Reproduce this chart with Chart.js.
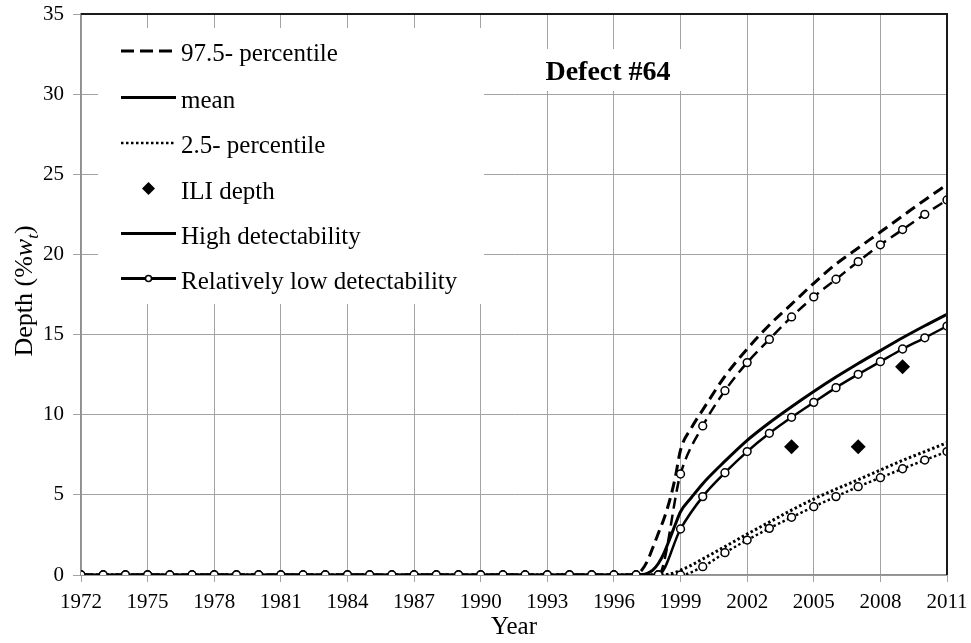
<!DOCTYPE html>
<html>
<head>
<meta charset="utf-8">
<script src="https://cdn.jsdelivr.net/npm/chart.js@4/dist/chart.umd.min.js"></script>
<style>
  html, body { margin: 0; padding: 0; background: #fff; }
  #wrap { width: 971px; height: 643px; }
</style>
</head>
<body>
<div id="wrap"><canvas id="c" width="971" height="643"></canvas></div>
<script>
// Yearly points of the low-detectability runs (marked every year)
const years = [1972, 1973, 1974, 1975, 1976, 1977, 1978, 1979, 1980, 1981,
               1982, 1983, 1984, 1985, 1986, 1987, 1988, 1989, 1990, 1991,
               1992, 1993, 1994, 1995, 1996, 1997, 1998, 1999, 2000, 2001,
               2002, 2003, 2004, 2005, 2006, 2007, 2008, 2009, 2010, 2011];

const lowUpper = [0, 0, 0, 0, 0, 0, 0, 0, 0, 0,
                  0, 0, 0, 0, 0, 0, 0, 0, 0, 0,
                  0, 0, 0, 0, 0, 0, 0, 6.3, 9.3, 11.5,
                  13.25, 14.7, 16.1, 17.35, 18.45, 19.55, 20.6, 21.55, 22.5, 23.4];

const lowMean = [0, 0, 0, 0, 0, 0, 0, 0, 0, 0,
                 0, 0, 0, 0, 0, 0, 0, 0, 0, 0,
                 0, 0, 0, 0, 0, 0, 0, 2.87, 4.89, 6.38,
                 7.7, 8.84, 9.84, 10.77, 11.69, 12.52, 13.31, 14.1, 14.8, 15.53];

const lowLower = [0, 0, 0, 0, 0, 0, 0, 0, 0, 0,
                  0, 0, 0, 0, 0, 0, 0, 0, 0, 0,
                  0, 0, 0, 0, 0, 0, 0, 0, 0.52, 1.39,
                  2.18, 2.91, 3.6, 4.26, 4.89, 5.51, 6.07, 6.63, 7.17, 7.7];

// High-detectability runs, read more densely around the initiation time
const highYears = [1972, 1996, 1996.5, 1997, 1997.25, 1997.5, 1997.75, 1998, 1998.25, 1998.5,
                   1998.75, 1999, 1999.5, 2000, 2001, 2002, 2003, 2004, 2005, 2006,
                   2007, 2008, 2009, 2010, 2011];

const highUpper = [0, 0, 0, 0.05, 0.3, 0.85, 1.7, 2.6, 3.5, 4.6,
                   6.0, 7.8, 9.2, 10.3, 12.4, 14.1, 15.6, 16.9, 18.2, 19.4,
                   20.4, 21.4, 22.4, 23.4, 24.35];

const highMean = [0, 0, 0, 0, 0.02, 0.1, 0.3, 0.72, 1.35, 2.2,
                  3.1, 3.95, 4.85, 5.7, 7.1, 8.4, 9.5, 10.5, 11.45, 12.35,
                  13.2, 14.0, 14.8, 15.55, 16.27];

const highLower = [0, 0, 0, 0, 0, 0, 0, 0, 0.02, 0.06,
                   0.15, 0.3, 0.62, 1.0, 1.77, 2.55, 3.3, 4.05, 4.74, 5.35,
                   5.95, 6.55, 7.15, 7.7, 8.25];

// In-line inspection measurements
const iliYears = [2004, 2007, 2009];
const iliDepth = [8, 8, 13];

const xTickValues = [1972, 1975, 1978, 1981, 1984, 1987, 1990, 1993, 1996, 1999, 2002, 2005, 2008, 2011];

const legendLabels = ['97.5- percentile', 'mean', '2.5- percentile', 'ILI depth',
                      'High detectability', 'Relatively low detectability'];
const chartTitle = 'Defect #64';

const SERIF = '"Liberation Serif", "Times New Roman", serif';
const DASH = [11, 6];
const DOT = [2.5, 2.5];

const pairs = (xs, ys) => xs.map((x, i) => ({ x: x, y: ys[i] }));

function highSeries(label, ys, dash) {
  return {
    label: label,
    data: pairs(highYears, ys),
    borderColor: '#000',
    borderWidth: 3,
    borderDash: dash,
    borderCapStyle: 'butt',
    pointRadius: 0,
    cubicInterpolationMode: 'monotone',
    fill: false
  };
}

function lowSeries(label, ys, dash) {
  return {
    label: label,
    data: pairs(years, ys),
    borderColor: '#000',
    borderWidth: 2.5,
    borderDash: dash,
    borderCapStyle: 'butt',
    pointRadius: 3.9,
    pointBorderWidth: 1.5,
    pointBorderColor: '#000',
    pointBackgroundColor: '#fff',
    pointStyle: 'circle',
    cubicInterpolationMode: 'monotone',
    fill: false
  };
}

// White boxes for the legend and the title, plot frame, axis title and legend entries
const decorations = {
  id: 'decorations',
  afterDraw(chart) {
    const ctx = chart.ctx;
    const a = chart.chartArea;
    ctx.save();

    // dark frame on top and right
    ctx.strokeStyle = '#1a1a1a';
    ctx.lineWidth = 2;
    ctx.beginPath();
    ctx.moveTo(a.left, a.top);
    ctx.lineTo(a.right, a.top);
    ctx.lineTo(a.right, a.bottom);
    ctx.stroke();

    // title box
    ctx.fillStyle = '#fff';
    ctx.fillRect(526, 49, 157, 42);
    ctx.fillStyle = '#000';
    ctx.font = 'bold 28px ' + SERIF;
    ctx.textAlign = 'center';
    ctx.textBaseline = 'alphabetic';
    ctx.fillText(chartTitle, 608, 80);

    // legend box
    ctx.fillStyle = '#fff';
    ctx.fillRect(98, 28, 386, 276);

    const x0 = 121, x1 = 176, xm = 148.5;
    const rowY = [51, 97.5, 143, 188.5, 233.5, 278.5];
    ctx.strokeStyle = '#000';
    ctx.fillStyle = '#000';
    const seg = (y, w, dash) => {
      ctx.setLineDash(dash);
      ctx.lineWidth = w;
      ctx.beginPath();
      ctx.moveTo(x0, y);
      ctx.lineTo(x1, y);
      ctx.stroke();
      ctx.setLineDash([]);
    };
    seg(rowY[0], 3, [13, 6]);
    seg(rowY[1], 3, []);
    seg(rowY[2], 2.5, DOT);
    // diamond
    ctx.beginPath();
    ctx.moveTo(xm, rowY[3] - 6.5);
    ctx.lineTo(xm + 6.5, rowY[3]);
    ctx.lineTo(xm, rowY[3] + 6.5);
    ctx.lineTo(xm - 6.5, rowY[3]);
    ctx.closePath();
    ctx.fill();
    seg(rowY[4], 3, []);
    seg(rowY[5], 3, []);
    ctx.beginPath();
    ctx.arc(xm, rowY[5], 3, 0, Math.PI * 2);
    ctx.fillStyle = '#fff';
    ctx.fill();
    ctx.lineWidth = 1.5;
    ctx.stroke();

    ctx.fillStyle = '#000';
    ctx.font = '25px ' + SERIF;
    ctx.textAlign = 'left';
    ctx.textBaseline = 'alphabetic';
    legendLabels.forEach((t, i) => ctx.fillText(t, 181, rowY[i] + 10));

    // x axis title
    ctx.font = '25px ' + SERIF;
    ctx.textAlign = 'center';
    ctx.fillText('Year', (a.left + a.right) / 2, 634);

    // y axis title: Depth (%w_t)
    ctx.translate(32, 291);
    ctx.rotate(-Math.PI / 2);
    const base = '26px ' + SERIF;
    const ital = 'italic 26px ' + SERIF;
    const sub = 'italic 17px ' + SERIF;
    const parts = [
      { t: 'Depth (%', f: base, dy: 0 },
      { t: 'w', f: ital, dy: 0 },
      { t: 't', f: sub, dy: 6 },
      { t: ')', f: base, dy: 0 }
    ];
    let total = 0;
    parts.forEach(p => { ctx.font = p.f; p.w = ctx.measureText(p.t).width; total += p.w; });
    let px = -total / 2;
    ctx.textAlign = 'left';
    parts.forEach(p => { ctx.font = p.f; ctx.fillText(p.t, px, p.dy); px += p.w; });

    ctx.restore();
  }
};

new Chart(document.getElementById('c'), {
  type: 'line',
  data: {
    datasets: [
      { label: 'ILI depth', data: pairs(iliYears, iliDepth), showLine: false,
        pointStyle: 'rectRot', pointRadius: 7.5, pointBackgroundColor: '#000',
        pointBorderColor: '#000', pointBorderWidth: 0, borderColor: '#000' },
      lowSeries('97.5- percentile (low)', lowUpper, DASH),
      lowSeries('mean (low)', lowMean, []),
      lowSeries('2.5- percentile (low)', lowLower, DOT),
      highSeries('97.5- percentile', highUpper, DASH),
      highSeries('mean', highMean, []),
      highSeries('2.5- percentile', highLower, DOT)
    ]
  },
  options: {
    responsive: false,
    animation: false,
    devicePixelRatio: 1,
    layout: { padding: { top: 14, right: 24, left: 0, bottom: 0 } },
    plugins: { legend: { display: false }, tooltip: { enabled: false } },
    scales: {
      x: {
        type: 'linear',
        min: 1972,
        max: 2011,
        afterBuildTicks: s => { s.ticks = xTickValues.map(v => ({ value: v })); },
        afterFit: s => { s.height = 68; s.paddingLeft = 0; s.paddingRight = 0; },
        ticks: {
          autoSkip: false, maxRotation: 0, color: '#000', padding: 8,
          font: { family: SERIF, size: 21 },
          callback: v => String(v)
        },
        grid: { color: '#a3a3a3', lineWidth: 1, tickLength: 7 },
        border: { color: '#8f8f8f', width: 1.5 }
      },
      y: {
        min: 0,
        max: 35,
        afterFit: s => { s.width = 81; s.paddingTop = 0; s.paddingBottom = 0; },
        ticks: {
          stepSize: 5, color: '#000', padding: 9,
          font: { family: SERIF, size: 21 }
        },
        grid: { color: '#a3a3a3', lineWidth: 1, tickLength: 8 },
        border: { color: '#8f8f8f', width: 1.5 }
      }
    }
  },
  plugins: [decorations]
});
</script>
</body>
</html>
